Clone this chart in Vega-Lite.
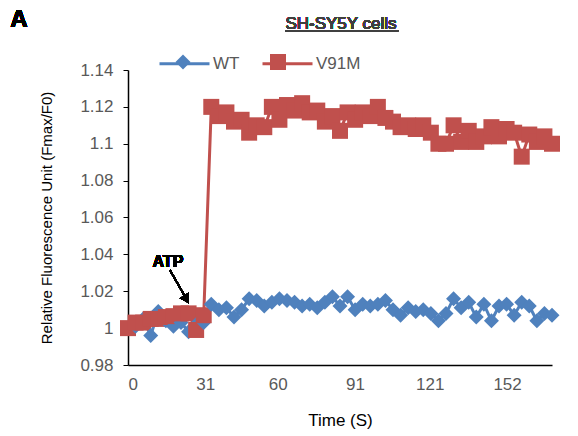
{
  "$schema": "https://vega.github.io/schema/vega-lite/v6.json",
  "width": 424,
  "height": 295,
  "autosize": {"type": "none"},
  "padding": {"left": 128, "top": 70, "right": 26, "bottom": 71},
  "background": "white",
  "config": {"font": "Liberation Sans", "view": {"stroke": null}},
  "data": {"values": [
    {"t": 0, "WT": 1.000, "V91M": 1.000},
    {"t": 3.04, "WT": 1.001, "V91M": 1.003},
    {"t": 6.07, "WT": 1.005, "V91M": 1.003},
    {"t": 9.11, "WT": 0.996, "V91M": 1.005},
    {"t": 12.14, "WT": 1.009, "V91M": 1.005},
    {"t": 15.18, "WT": 1.004, "V91M": 1.006},
    {"t": 18.21, "WT": 1.001, "V91M": 1.0065},
    {"t": 21.25, "WT": 1.003, "V91M": 1.008},
    {"t": 24.29, "WT": 0.998, "V91M": 1.008},
    {"t": 27.32, "WT": 1.002, "V91M": 0.999},
    {"t": 30.36, "WT": 1.003, "V91M": 1.007},
    {"t": 33.39, "WT": 1.013, "V91M": 1.120},
    {"t": 36.43, "WT": 1.010, "V91M": 1.115},
    {"t": 39.46, "WT": 1.011, "V91M": 1.117},
    {"t": 42.5, "WT": 1.006, "V91M": 1.112},
    {"t": 45.54, "WT": 1.010, "V91M": 1.113},
    {"t": 48.57, "WT": 1.016, "V91M": 1.106},
    {"t": 51.61, "WT": 1.015, "V91M": 1.110},
    {"t": 54.64, "WT": 1.012, "V91M": 1.109},
    {"t": 57.68, "WT": 1.014, "V91M": 1.120},
    {"t": 60.71, "WT": 1.016, "V91M": 1.113},
    {"t": 63.75, "WT": 1.015, "V91M": 1.121},
    {"t": 66.79, "WT": 1.014, "V91M": 1.118},
    {"t": 69.82, "WT": 1.012, "V91M": 1.122},
    {"t": 72.86, "WT": 1.013, "V91M": 1.117},
    {"t": 75.89, "WT": 1.011, "V91M": 1.118},
    {"t": 78.93, "WT": 1.014, "V91M": 1.112},
    {"t": 81.96, "WT": 1.017, "V91M": 1.115},
    {"t": 85.0, "WT": 1.012, "V91M": 1.107},
    {"t": 88.04, "WT": 1.017, "V91M": 1.117},
    {"t": 91.07, "WT": 1.010, "V91M": 1.113},
    {"t": 94.11, "WT": 1.013, "V91M": 1.117},
    {"t": 97.14, "WT": 1.012, "V91M": 1.115},
    {"t": 100.18, "WT": 1.013, "V91M": 1.120},
    {"t": 103.21, "WT": 1.015, "V91M": 1.114},
    {"t": 106.25, "WT": 1.010, "V91M": 1.112},
    {"t": 109.29, "WT": 1.007, "V91M": 1.109},
    {"t": 112.32, "WT": 1.011, "V91M": 1.110},
    {"t": 115.36, "WT": 1.009, "V91M": 1.108},
    {"t": 118.39, "WT": 1.010, "V91M": 1.110},
    {"t": 121.43, "WT": 1.008, "V91M": 1.106},
    {"t": 124.46, "WT": 1.004, "V91M": 1.100},
    {"t": 127.5, "WT": 1.008, "V91M": 1.100},
    {"t": 130.54, "WT": 1.016, "V91M": 1.110},
    {"t": 133.57, "WT": 1.011, "V91M": 1.101},
    {"t": 136.61, "WT": 1.014, "V91M": 1.107},
    {"t": 139.64, "WT": 1.006, "V91M": 1.101},
    {"t": 142.68, "WT": 1.013, "V91M": 1.104},
    {"t": 145.71, "WT": 1.004, "V91M": 1.109},
    {"t": 148.75, "WT": 1.012, "V91M": 1.104},
    {"t": 151.79, "WT": 1.013, "V91M": 1.108},
    {"t": 154.82, "WT": 1.007, "V91M": 1.106},
    {"t": 157.86, "WT": 1.014, "V91M": 1.093},
    {"t": 160.89, "WT": 1.012, "V91M": 1.105},
    {"t": 163.93, "WT": 1.004, "V91M": 1.101},
    {"t": 166.96, "WT": 1.008, "V91M": 1.104},
    {"t": 170.0, "WT": 1.007, "V91M": 1.100}
  ]},
  "layer": [
    {
      "transform": [{"fold": ["WT", "V91M"], "as": ["series", "value"]}],
      "mark": {"type": "line", "strokeWidth": 3},
      "encoding": {
        "x": {"field": "t", "type": "quantitative", "scale": {"domain": [0, 170], "nice": false, "zero": false},
          "axis": {"values": [0, 31, 60, 91, 121, 152], "tickCount": 20, "title": "Time (S)", "grid": false, "ticks": false, "labelOverlap": false, "domainColor": "#000000", "domainWidth": 1.5, "labelFontSize": 17, "labelColor": "#595959", "labelPadding": 11, "titleFontSize": 17, "titleFontWeight": "normal", "titleColor": "#000000", "titlePadding": 20}},
        "y": {"field": "value", "type": "quantitative", "scale": {"domain": [0.98, 1.14], "nice": false, "zero": false},
          "axis": {"values": [0.98, 1.0, 1.02, 1.04, 1.06, 1.08, 1.1, 1.12, 1.14], "tickCount": 20, "labelExpr": "datum.value == 1 ? '1' : format(datum.value, '~r')", "labelOverlap": false, "grid": false, "tickSize": 5, "tickColor": "#000000", "domainColor": "#000000", "domainWidth": 1.5, "labelFontSize": 17, "labelColor": "#595959", "labelPadding": 10, "title": "Relative Fluorescence Unit (Fmax/F0)", "titleFontSize": 15, "titleFontWeight": "normal", "titleColor": "#000000", "titlePadding": 25}},
        "color": {"field": "series", "type": "nominal", "scale": {"domain": ["WT", "V91M"], "range": ["#4F81BD", "#C0504D"]},
          "legend": {"orient": "none", "legendX": 30, "legendY": -33, "direction": "horizontal", "title": null, "symbolType": "stroke", "symbolSize": 2500, "symbolStrokeWidth": 3, "labelFontSize": 17, "labelColor": "#595959", "labelOffset": 2, "columnPadding": 16, "padding": 0}}
      }
    },
    {
      "transform": [{"fold": ["WT", "V91M"], "as": ["series", "value"]}],
      "mark": {"type": "point", "filled": true, "size": 2500, "opacity": 1},
      "encoding": {
        "x": {"field": "t", "type": "quantitative"},
        "y": {"field": "value", "type": "quantitative"},
        "color": {"field": "series", "type": "nominal",
          "legend": {"orient": "none", "legendX": 30, "legendY": -33, "direction": "horizontal", "title": null, "symbolSize": 2500, "symbolStrokeWidth": 0, "labelFontSize": 17, "labelOpacity": 0, "labelOffset": 2, "columnPadding": 16, "padding": 0}},
        "shape": {"field": "series", "type": "nominal", "scale": {"domain": ["WT", "V91M"], "range": ["M-0.3,0L0,-0.3L0.3,0L0,0.3Z", "M-0.32,-0.32H0.32V0.32H-0.32Z"]},
          "legend": {"orient": "none", "legendX": 30, "legendY": -33, "direction": "horizontal", "title": null, "symbolSize": 2500, "symbolStrokeWidth": 0, "labelFontSize": 17, "labelOpacity": 0, "labelOffset": 2, "columnPadding": 16, "padding": 0}}
      }
    },
    {
      "mark": {"type": "rule", "color": "#000000", "strokeWidth": 1.5},
      "encoding": {"x": {"datum": 16.84}, "y": {"datum": 1.0315}, "x2": {"datum": 23.5}, "y2": {"datum": 1.0156}}
    },
    {
      "mark": {"type": "point", "shape": "triangle-up", "filled": true, "fill": "#000000", "strokeWidth": 0, "size": 110, "angle": 148, "opacity": 1},
      "encoding": {"x": {"datum": 23.5}, "y": {"datum": 1.0156}}
    },
    {
      "mark": {"type": "text", "text": "ATP", "fontSize": 16, "fontWeight": "bold", "fill": "#000000", "align": "center", "baseline": "middle"},
      "encoding": {"x": {"datum": 16.0}, "y": {"datum": 1.0359}}
    },
    {
      "mark": {"type": "text", "text": "A", "fontSize": 24, "fontWeight": "bold", "fill": "#000000", "align": "center", "baseline": "middle"},
      "encoding": {"x": {"datum": -43.7}, "y": {"datum": 1.1671}}
    },
    {
      "mark": {"type": "text", "text": "SH-SY5Y cells", "fontSize": 17, "fill": "#404040", "align": "center", "baseline": "middle"},
      "encoding": {"x": {"datum": 85.4}, "y": {"datum": 1.1649}}
    },
    {
      "mark": {"type": "rule", "color": "#404040", "strokeWidth": 1},
      "encoding": {"x": {"datum": 63}, "x2": {"datum": 108.3}, "y": {"datum": 1.1612}}
    }
  ],
  "resolve": {"legend": {"color": "independent", "shape": "independent"}}
}
